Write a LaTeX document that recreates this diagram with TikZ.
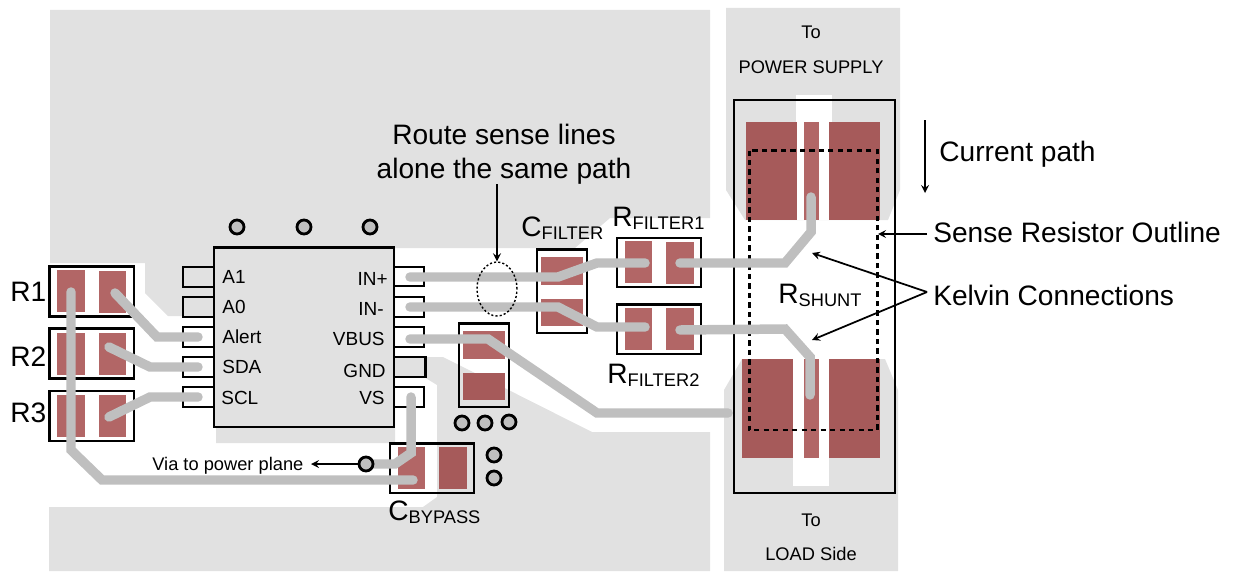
\documentclass[tikz,border=0pt]{standalone}
\usepackage{fontspec}
\setmainfont{Liberation Sans}
\usetikzlibrary{arrows}
\usetikzlibrary{shapes.geometric}

\definecolor{planegray}{HTML}{E1E1E1}
\definecolor{tracegray}{HTML}{BFBFBF}
\definecolor{padlight}{HTML}{B26666}
\definecolor{paddark}{HTML}{A65A5A}

\newcommand{\biglab}{\fontsize{16}{18}\selectfont}
\newcommand{\sublab}{\fontsize{10.4}{12}\selectfont}
\newcommand{\pinlab}{\fontsize{10.8}{12}\selectfont}
\newcommand{\smalllab}{\fontsize{10.4}{12}\selectfont}
\newcommand{\refdes}[2]{#1\raisebox{-2pt}{\sublab #2}}

\tikzset{
	plane/.style={fill=planegray, draw=none},
	cutout/.style={fill=white, draw=none},
	lightpad/.style={fill=padlight, draw=none},
	darkpad/.style={fill=paddark, draw=none},
	outline/.style={draw=black, line width=1.5pt},
	trace/.style={draw=tracegray, line width=5.4pt, line cap=round},
	via/.style={circle, draw=black, fill=tracegray, line width=1.6pt, inner sep=0pt, minimum size=0.28cm},
	pinleft/.style={anchor=base west, inner sep=0pt, font=\pinlab},
	pinright/.style={anchor=base east, inner sep=0pt, font=\pinlab},
	biglabel/.style={anchor=base west, inner sep=0pt, font=\biglab},
	centerlabel/.style={anchor=base, inner sep=0pt, font=\smalllab},
	pointer/.style={->, >=stealth, line width=1pt, color=black}
}

\begin{document}
\begin{tikzpicture}[x=0.02cm, y=-0.02cm]
	\useasboundingbox (0,0) rectangle (1233,571);

	%copper planes
	\fill[plane] (50,10) -- (710,10) -- (710,218) -- (610,218) -- (575,248) -- (395,248) -- (395,443) -- (216,443) -- (216,316) -- (168,316) -- (145,293) -- (145,263) -- (50,263) -- cycle; %upper left plane
	\fill[plane] (49,507) -- (423,507) -- (437,497) -- (437,385) -- (424,377) -- (394,377) -- (394,357) -- (443,357) -- (592,432) -- (710,432) -- (710,571) -- (49,571) -- cycle; %lower plane
	\fill[plane] (726,8) -- (900,8) -- (900,190) -- (888,220) -- (745,220) -- (726,190) -- cycle; %supply side
	\fill[plane] (724,390) -- (742,359) -- (885,359) -- (898,390) -- (898,571) -- (724,571) -- cycle; %load side
	\fill[cutout] (796,95) rectangle (832,220); %upper slot
	\fill[cutout] (793,359) rectangle (829,486); %lower slot

	%shunt pads
	\fill[darkpad] (746,122) rectangle (797,220);
	\fill[lightpad] (804,122) rectangle (819,220);
	\fill[darkpad] (829,122) rectangle (880,220);
	\fill[darkpad] (742,359) rectangle (793,458);
	\fill[lightpad] (804,359) rectangle (819,458);
	\fill[darkpad] (829,359) rectangle (880,458);

	%sense resistor outline and shunt body
	\draw[black, line width=1.7pt, dash pattern=on 3pt off 2.4pt] (749,150.5) rectangle (877,430);
	\draw[outline] (734,100) rectangle (895,493);

	%R1 R2 R3
	\fill[lightpad] (57,270) rectangle (85,312);
	\fill[lightpad] (99,271) rectangle (126,313);
	\draw[outline] (49.5,266.5) rectangle (134,316.5);
	\fill[lightpad] (57,333) rectangle (85,375);
	\fill[lightpad] (99,333) rectangle (126,375);
	\draw[outline] (49.5,328.5) rectangle (134,378.5);
	\fill[lightpad] (57,395) rectangle (85,437);
	\fill[lightpad] (99,395) rectangle (126,437);
	\draw[outline] (49.5,391) rectangle (134,441);

	%device
	\fill[plane] (214,247.5) rectangle (394,427);
	\draw[outline] (214,247.5) rectangle (394,427);
	\draw[outline] (213,267) -- (183,267) -- (183,287) -- (213,287);
	\draw[outline] (213,297) -- (183,297) -- (183,317) -- (213,317);
	\draw[outline] (213,327) -- (183,327) -- (183,347) -- (213,347);
	\draw[outline] (213,357) -- (183,357) -- (183,377) -- (213,377);
	\draw[outline] (213,387) -- (183,387) -- (183,407) -- (213,407);
	\draw[outline] (395,267) -- (424,267) -- (424,286) -- (395,286);
	\draw[outline] (395,297) -- (424,297) -- (424,317) -- (395,317);
	\draw[outline] (395,327) -- (424,327) -- (424,347) -- (395,347);
	\draw[outline] (395,357) -- (425.5,357) -- (425.5,377) -- (395,377);
	\draw[outline] (395,387) -- (424,387) -- (424,407) -- (395,407);

	%capacitors and filter resistors
	\fill[lightpad] (541,257) rectangle (583,285);
	\fill[lightpad] (541,299) rectangle (583,326);
	\draw[outline] (537,249.5) rectangle (587,333);
	\fill[lightpad] (463,331) rectangle (505,359);
	\fill[darkpad] (463,373) rectangle (505,400);
	\draw[outline] (459,323.5) rectangle (509,407);
	\fill[lightpad] (398,447) rectangle (425,489);
	\fill[darkpad] (439,447) rectangle (467,489);
	\draw[outline] (390,443.5) rectangle (474,493);
	\fill[lightpad] (625,241) rectangle (652,283);
	\fill[lightpad] (666,242) rectangle (694,284);
	\draw[outline] (617,238) rectangle (701,287);
	\fill[lightpad] (625,308) rectangle (652,350);
	\fill[lightpad] (666,308) rectangle (694,350);
	\draw[outline] (617,304.5) rectangle (701,354);

	%traces
	\draw[trace] (115,293) -- (157,337) -- (198,337); %alert
	\draw[trace] (109,347) -- (150,367) -- (198,367); %sda
	\draw[trace] (109,417) -- (150,397) -- (198,397); %scl
	\draw[trace] (71,292) -- (71,450) -- (102,480) -- (413,480); %ground return
	\draw[trace] (411,397) -- (411,453) -- (395,464) -- (366,464); %vs
	\draw[trace] (410,277) -- (558,277) -- (597,263) -- (645,263); %in+
	\draw[trace] (410,307) -- (558,307) -- (597,327) -- (645,327); %in-
	\draw[trace] (410,339) -- (488,339) -- (597,413) -- (728,413); %vbus
	\draw[trace] (680,263) -- (785,263) -- (811,232) -- (811,197); %upper kelvin
	\draw[trace] (680,330) -- (785,329) -- (810,357) -- (810,395); %lower kelvin

	%vias
	\node[via] (viaa) at (237,227) {};
	\node[via] (viab) at (304,227) {};
	\node[via] (viac) at (370,227) {};
	\node[via] (viad) at (366,464) {};
	\node[via] (viae) at (462,423) {};
	\node[via] (viaf) at (485,423) {};
	\node[via] (viag) at (509,422) {};
	\node[via] (viah) at (494,455) {};
	\node[via] (viai) at (494,478) {};

	%pin names
	\node[pinleft] (pina) at (222,283) {A1};
	\node[pinleft] (pinb) at (222,313) {A0};
	\node[pinleft] (pinc) at (222,343) {Alert};
	\node[pinleft] (pind) at (222,373) {SDA};
	\node[pinleft] (pine) at (221,404) {SCL};
	\node[pinright] (pinf) at (388,285) {IN+};
	\node[pinright] (ping) at (384,315) {IN-};
	\node[pinright] (pinh) at (385,345) {VBUS};
	\node[pinright] (pini) at (386,377) {GND};
	\node[pinright] (pinj) at (385,404) {VS};

	%part names
	\node[biglabel] (rone) at (10,301) {R1};
	\node[biglabel] (rtwo) at (10,366) {R2};
	\node[biglabel] (rthree) at (10,422) {R3};
	\node[biglabel] (cfilter) at (521,236) {\refdes{C}{FILTER}};
	\node[biglabel] (rfilterone) at (612,226) {\refdes{R}{FILTER1}};
	\node[biglabel] (rfiltertwo) at (607,383) {\refdes{R}{FILTER2}};
	\node[biglabel] (cbypass) at (388,520) {\refdes{C}{BYPASS}};
	\node[biglabel] (rshunt) at (778,303) {\refdes{R}{SHUNT}};

	%callouts
	\node[biglabel, anchor=base] (routea) at (504,144) {Route sense lines};
	\node[biglabel, anchor=base] (routeb) at (504,178) {alone the same path};
	\node[biglabel] (current) at (939,161) {Current path};
	\node[biglabel] (sense) at (933,242) {Sense Resistor Outline};
	\node[biglabel] (kelvin) at (933,305) {Kelvin Connections};
	\node[anchor=base west, inner sep=0pt, font=\smalllab] (vialabel) at (152,470) {Via to power plane};
	\node[centerlabel] (supplyto) at (811,39) {To};
	\node[centerlabel] (supply) at (811,73) {POWER SUPPLY};
	\node[centerlabel] (loadto) at (811,526) {To};
	\node[centerlabel] (load) at (811,560) {LOAD Side};

	%same path marker
	\node[draw=black, ellipse, dash pattern=on 1.2pt off 1.2pt, line width=0.8pt, inner sep=0pt, minimum width=0.8cm, minimum height=1.08cm] (bundle) at (497,289) {};

	%arrows
	\coordinate (currenttop) at (925,120);
	\coordinate (currentend) at (925,193);
	\coordinate (sensefree) at (927,234);
	\coordinate (sensetip) at (878,234);
	\coordinate (kelvinjoin) at (927,292);
	\coordinate (kelvinup) at (812,253);
	\coordinate (kelvindown) at (812,340);
	\coordinate (viatip) at (311,464);
	\draw[pointer] (routeb.south -| bundle.north) -- (bundle.north);
	\draw[pointer] (currenttop) -- (currentend);
	\draw[pointer] (sensefree) -- (sensetip);
	\draw[pointer] (kelvinjoin) -- (kelvinup);
	\draw[pointer] (kelvinjoin) -- (kelvindown);
	\draw[pointer] (viad) -- (viatip);
\end{tikzpicture}
\end{document}
